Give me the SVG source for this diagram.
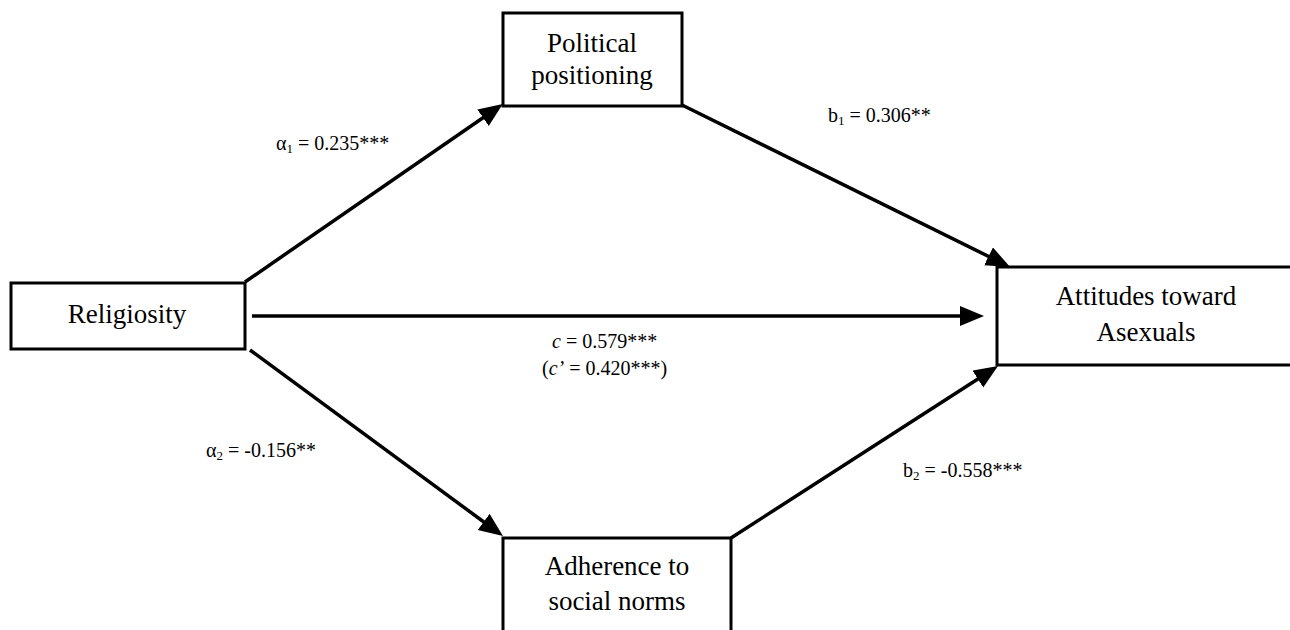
<svg xmlns="http://www.w3.org/2000/svg" width="1290" height="630" viewBox="0 0 1290 630">
<style>
.box{fill:#fff;stroke:#000;stroke-width:3}
.nt{font-family:"Liberation Serif","Times New Roman",serif;font-size:27px;fill:#000;text-anchor:middle}
.lb{font-family:"Liberation Serif","Times New Roman",serif;font-size:20px;fill:#000}
.ln{stroke:#000;stroke-width:3.5;fill:none;marker-end:url(#ah)}
</style>
<defs>
<marker id="ah" markerUnits="userSpaceOnUse" markerWidth="26" markerHeight="22" refX="7" refY="10" orient="auto">
<path d="M0,0 L24,10 L0,20 z" fill="#000"/>
</marker>
</defs>
<rect width="1290" height="630" fill="#fff"/>
<g id="connectors">
<line class="ln" x1="245" y1="282" x2="488.8" y2="113.7"/>
<line class="ln" x1="682" y1="105" x2="994.8" y2="259.5"/>
<line class="ln" x1="252" y1="316" x2="967" y2="316"/>
<line class="ln" x1="250" y1="350" x2="489.3" y2="526"/>
<line class="ln" x1="731" y1="538" x2="983.7" y2="375.2"/>
</g>
<g id="religiosity">
<rect class="box" x="11" y="283" width="234" height="66"/>
<text class="nt" x="127" y="323">Religiosity</text>
</g>
<g id="political">
<rect class="box" x="503" y="13" width="179" height="93"/>
<text class="nt" x="592" y="52">Political</text>
<text class="nt" x="592" y="84">positioning</text>
</g>
<g id="attitudes">
<rect class="box" x="997" y="267" width="300" height="98"/>
<text class="nt" x="1146" y="305">Attitudes toward</text>
<text class="nt" x="1146" y="341">Asexuals</text>
</g>
<g id="adherence">
<rect class="box" x="503" y="538" width="228" height="110"/>
<text class="nt" x="617" y="575">Adherence to</text>
<text class="nt" x="617" y="610">social norms</text>
</g>
<g id="labels">
<text class="lb" x="276" y="150">α<tspan font-size="13" dy="3">1</tspan><tspan dy="-3"> = 0.235***</tspan></text>
<text class="lb" x="828" y="122">b<tspan font-size="13" dy="3">1</tspan><tspan dy="-3"> = 0.306**</tspan></text>
<text class="lb" x="552" y="348"><tspan font-style="italic">c</tspan> = 0.579***</text>
<text class="lb" x="542" y="375">(<tspan font-style="italic">c’</tspan> = 0.420***)</text>
<text class="lb" x="206" y="457">α<tspan font-size="13" dy="3">2</tspan><tspan dy="-3"> = -0.156**</tspan></text>
<text class="lb" x="903" y="477">b<tspan font-size="13" dy="3">2</tspan><tspan dy="-3"> = -0.558***</tspan></text>
</g>
</svg>
